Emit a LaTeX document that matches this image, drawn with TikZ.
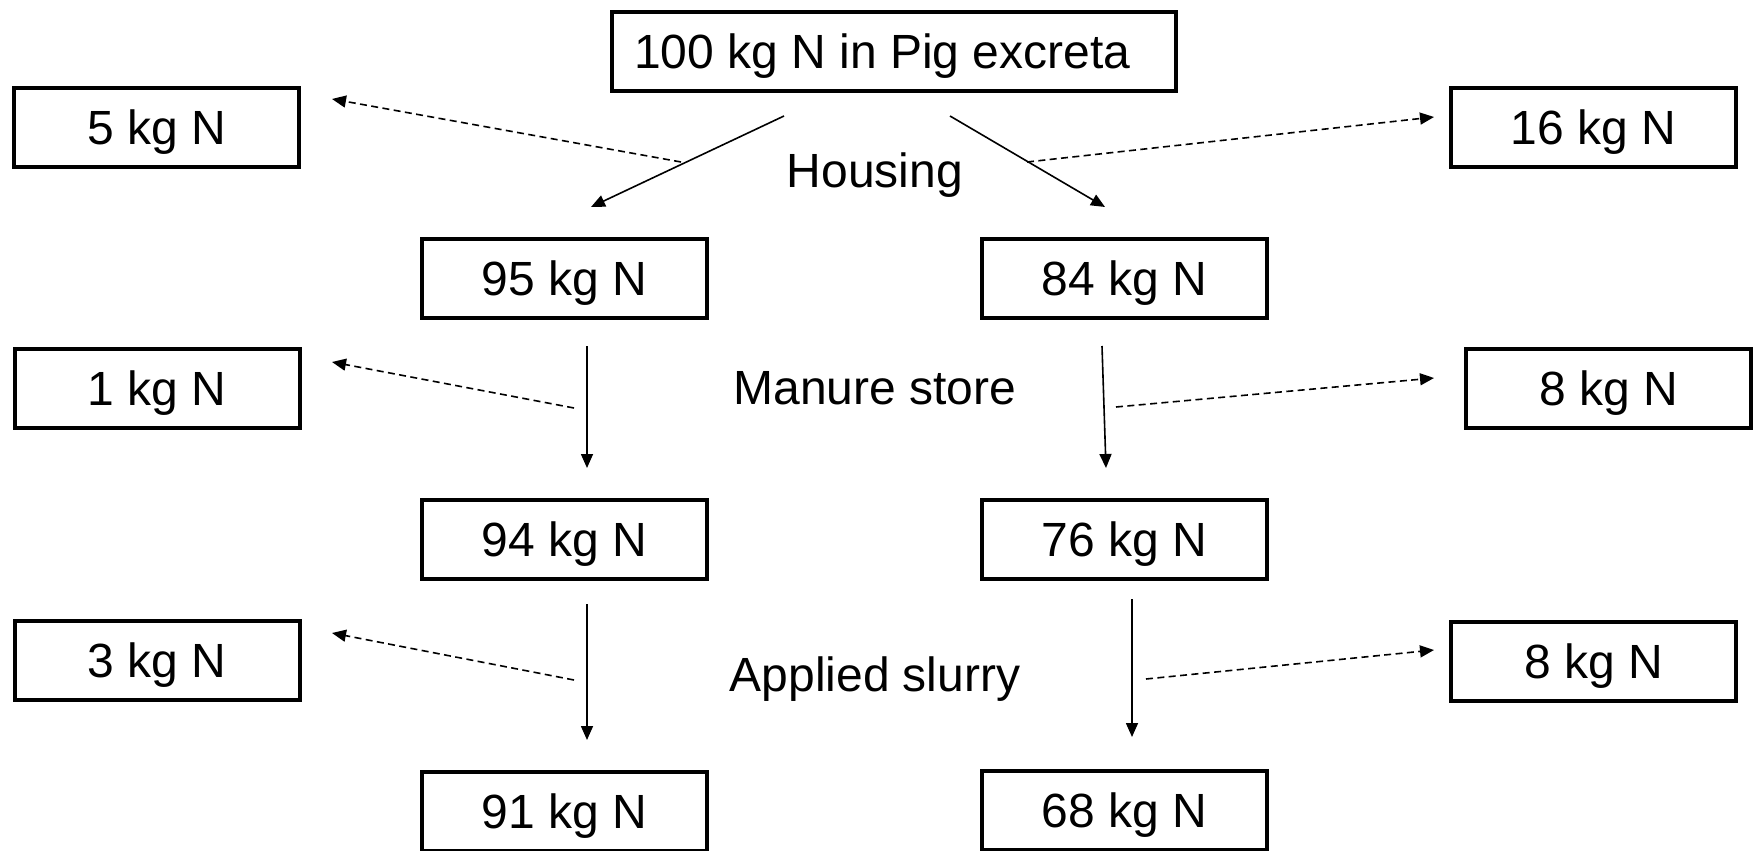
\documentclass[tikz,border=0pt]{standalone}
\usepackage{fontspec}
\setmainfont{Liberation Sans}
\usetikzlibrary{arrows.meta}
\begin{document}
\begin{tikzpicture}[x=0.5pt,y=-0.5pt,
  every node/.style={font=\fontsize{24pt}{28pt}\selectfont},
  nbox/.style={draw, line width=2pt, minimum width=142.5pt, minimum height=39.5pt, inner sep=0pt, text depth=0pt},
  flow/.style={line width=0.8pt, -{Triangle[length=7pt,width=6pt]}},
  loss/.style={line width=0.8pt, dash pattern=on 3.5pt off 2.2pt, -{Triangle[length=7pt,width=6pt]}},
  stage/.style={anchor=base}]
\useasboundingbox (0,0) rectangle (1758,851);
% boxes
\node[nbox, minimum width=282pt] (top) at (894,51) {100 kg N in Pig excreta\rule{11.8pt}{0pt}};
\node[nbox] (b5)  at (156.5,127.5) {5 kg N};
\node[nbox] (b16) at (1593.5,127.5) {16 kg N};
\node[nbox] (b95) at (564.5,278.5) {95 kg N};
\node[nbox] (b84) at (1124.5,278.5) {84 kg N};
\node[nbox] (b1)  at (157,388.5) {1 kg N};
\node[nbox] (b8a) at (1608.5,388.5) {8 kg N};
\node[nbox] (b94) at (564.5,539.5) {94 kg N};
\node[nbox] (b76) at (1124.5,539.5) {76 kg N};
\node[nbox] (b3)  at (157,660.5) {3 kg N};
\node[nbox] (b8b) at (1593.5,661) {8 kg N};
\node[nbox] (b91) at (564.5,811) {91 kg N};
\node[nbox] (b68) at (1124.5,810.5) {68 kg N};
% stage labels
\node[stage] (housing) at (875,187) {Housing};
\node[stage] (manure) at (875,404) {Manure store};
\node[stage] (applied) at (875,691) {Applied slurry};
% arrow end points
\coordinate (h1s) at (784,116);  \coordinate (h1e) at (591,207);
\coordinate (h2s) at (950,116);  \coordinate (h2e) at (1105,207);
\coordinate (m1s) at (587,346);  \coordinate (m1e) at (587,468);
\coordinate (m2s) at (1102,346); \coordinate (m2e) at (1106,468);
\coordinate (a1s) at (587,604);  \coordinate (a1e) at (587,740);
\coordinate (a2s) at (1132,599); \coordinate (a2e) at (1132,737);
\coordinate (d5s) at (681,162);  \coordinate (d5e) at (332,99);
\coordinate (d16s) at (1027,162); \coordinate (d16e) at (1434,117);
\coordinate (d1s) at (574,408);  \coordinate (d1e) at (332,362);
\coordinate (d8as) at (1116,407); \coordinate (d8ae) at (1434,378);
\coordinate (d3s) at (574,680);  \coordinate (d3e) at (332,633);
\coordinate (d8bs) at (1146,679); \coordinate (d8be) at (1434,650);
% solid flows
\draw[flow] (h1s) -- (h1e);
\draw[flow] (h2s) -- (h2e);
\draw[flow] (m1s) -- (m1e);
\draw[flow] (m2s) -- (m2e);
\draw[flow] (a1s) -- (a1e);
\draw[flow] (a2s) -- (a2e);
% losses
\draw[loss] (d5s) -- (d5e);
\draw[loss] (d16s) -- (d16e);
\draw[loss] (d1s) -- (d1e);
\draw[loss] (d8as) -- (d8ae);
\draw[loss] (d3s) -- (d3e);
\draw[loss] (d8bs) -- (d8be);
\end{tikzpicture}
\end{document}
